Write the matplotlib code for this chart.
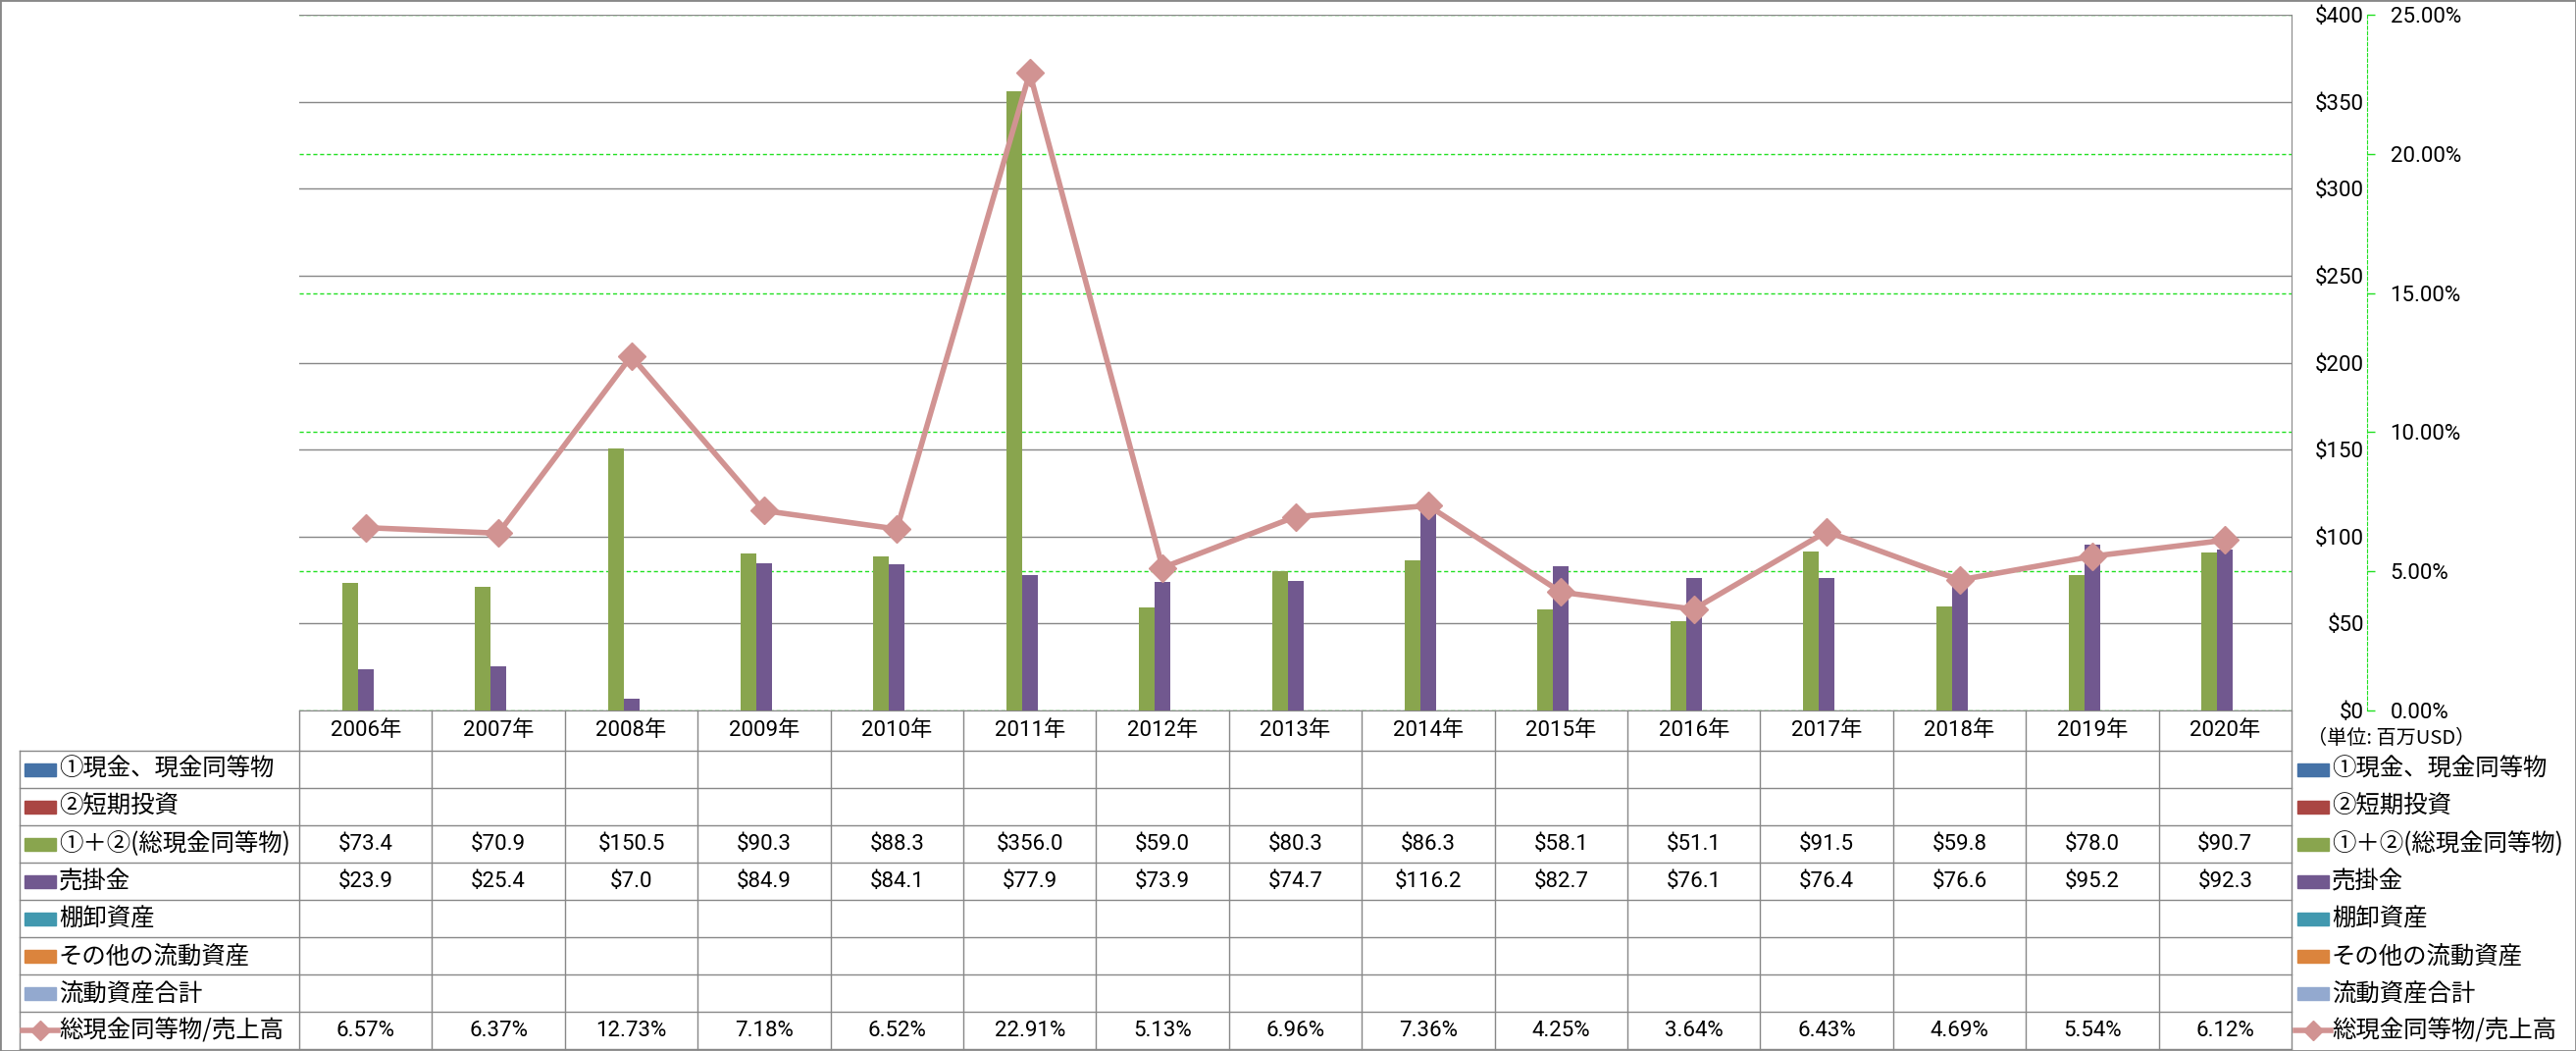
import matplotlib
matplotlib.use('Agg')
from matplotlib import pyplot as plt
from matplotlib.patches import Rectangle
import numpy as np

# data
years = ['2006年', '2007年', '2008年', '2009年', '2010年', '2011年', '2012年', '2013年',
         '2014年', '2015年', '2016年', '2017年', '2018年', '2019年', '2020年']
series_names = ['①現金、現金同等物', '②短期投資', '①＋②(総現金同等物)', '売掛金',
                '棚卸資産', 'その他の流動資産', '流動資産合計']
series_colors = ['#4572A7', '#AA4643', '#89A54E', '#71588F', '#4198AF', '#DB843D', '#93A9CF']
total_cash = [73.4, 70.9, 150.5, 90.3, 88.3, 356.0, 59.0, 80.3, 86.3, 58.1, 51.1, 91.5, 59.8, 78.0, 90.7]
receivables = [23.9, 25.4, 7.0, 84.9, 84.1, 77.9, 73.9, 74.7, 116.2, 82.7, 76.1, 76.4, 76.6, 95.2, 92.3]
series_values = [None, None, total_cash, receivables, None, None, None]
line_name = '総現金同等物/売上高'
cash_to_sales = [6.57, 6.37, 12.73, 7.18, 6.52, 22.91, 5.13, 6.96, 7.36, 4.25, 3.64, 6.43, 4.69, 5.54, 6.12]
line_color = '#D19392'
unit_note = '（単位: 百万USD）'

num_font = ['Roboto', 'Noto Sans CJK JP', 'DejaVu Sans']
jp_font = ['Noto Sans CJK JP', 'DejaVu Sans']
grid_grey = '#888888'
green = '#22E022'

W, H = 2626, 1071
fig = plt.figure(figsize=(W / 100, H / 100), dpi=100)


def fx(px):
    return px / W


def fy(py):
    return 1 - py / H


# layout in pixels
plot_l, plot_r, plot_t, plot_b = 305, 2336, 15, 724
tab_l, tab_b = 20, 1069
n = len(years)
col_w = (plot_r - plot_l) / n

ax = fig.add_axes([fx(plot_l), fy(plot_b), (plot_r - plot_l) / W, (plot_b - plot_t) / H])
axg = ax.twinx()
axl = ax.twinx()

x = np.arange(n) + 0.5
bar_w = 16 / col_w
for k, (vals, c) in enumerate(zip(series_values, series_colors)):
    if vals is None:
        continue
    ax.bar(x + (k - 3) * bar_w, vals, width=bar_w, color=c, zorder=3)

ax.set_xlim(0, n)
ax.set_ylim(0, 400)
yt = list(range(0, 401, 50))
ax.set_yticks(yt)
ax.set_yticklabels([f'${v}' for v in yt])
ax.set_xticks([])
ax.yaxis.grid(True, color=grid_grey, lw=1.0)
ax.set_axisbelow(True)
for s in ['left', 'top']:
    ax.spines[s].set_visible(False)
ax.spines['right'].set_color(grid_grey)
ax.spines['bottom'].set_color(grid_grey)
ax.yaxis.tick_right()
ax.tick_params(axis='y', length=0, pad=(2410 - plot_r) * 0.72, labelsize=16)
for lab in ax.get_yticklabels():
    lab.set_ha('right')
    lab.set_fontfamily(num_font)
ax.set_zorder(2)
ax.patch.set_visible(False)

# percent axis + green grid (below bars)
axg.set_ylim(0, 25)
pt = list(range(0, 26, 5))
axg.set_yticks(pt)
axg.set_yticklabels([f'{v:.2f}%' for v in pt])
axg.yaxis.grid(True, color=green, ls=(0, (3, 2)), lw=1.0)
for s in ['left', 'top', 'bottom']:
    axg.spines[s].set_visible(False)
axg.spines['right'].set_position(('outward', (2413 - plot_r) * 0.72))
axg.spines['right'].set_color(green)
axg.spines['right'].set_linestyle((0, (3, 2)))
axg.tick_params(axis='y', color=green, length=6, width=1, pad=11, labelsize=16)
for lab in axg.get_yticklabels():
    lab.set_fontfamily(num_font)
axg.set_zorder(1)

# ratio line on top
axl.set_ylim(0, 25)
axl.axis('off')
axl.set_zorder(3)
axl.patch.set_visible(False)
axl.plot(x, cash_to_sales, color=line_color, lw=4, marker='D', ms=14.5,
         mfc=line_color, mec=line_color, clip_on=False)

# data table
tab = fig.add_axes([fx(tab_l), fy(tab_b), (plot_r - tab_l) / W, (tab_b - plot_b) / H])
leg_w = (plot_l - tab_l) / col_w
head_h = 41 / 38
n_rows = len(series_names) + 1
tab.set_xlim(-leg_w, n)
tab.set_ylim(head_h + n_rows, 0)
tab.axis('off')

lkw = dict(color=grid_grey, lw=1.0, clip_on=False)
for r in range(n_rows + 1):
    tab.plot([-leg_w, n], [head_h + r, head_h + r], **lkw)
for i in range(n + 1):
    tab.plot([i, i], [0, head_h + n_rows], **lkw)
tab.plot([-leg_w, -leg_w], [head_h, head_h + n_rows], **lkw)

for i, yl in enumerate(years):
    tab.text(i + 0.5, head_h / 2, yl, ha='center', va='center', fontsize=16, family=num_font)

row_labels = series_names + [line_name]
for r, name in enumerate(row_labels):
    yc = head_h + r + 0.5
    if r < len(series_names):
        vals = series_values[r]
        if vals is not None:
            for i, v in enumerate(vals):
                tab.text(i + 0.5, yc, f'${v:.1f}', ha='center', va='center',
                         fontsize=16, family=num_font)
    else:
        for i, v in enumerate(cash_to_sales):
            tab.text(i + 0.5, yc, f'{v:.2f}%', ha='center', va='center',
                     fontsize=16, family=num_font)

    # legend keys: left column and right side
    for x0, tx in [(-leg_w + 4.5 / col_w, -leg_w + 40 / col_w),
                   (n + 6 / col_w, n + 41 / col_w)]:
        sw = 32 / col_w
        if r < len(series_names):
            tab.add_patch(Rectangle((x0, yc - 6.5 / 38), sw, 13 / 38,
                                    color=series_colors[r], clip_on=False))
        else:
            tab.plot([x0 - 2 / col_w, x0 + sw + 2 / col_w], [yc, yc], color=line_color,
                     lw=4, clip_on=False)
            tab.plot([x0 + sw / 2], [yc], marker='D', ms=10.5, color=line_color,
                     clip_on=False)
        tab.text(tx, yc, name, ha='left', va='center', fontsize=17.6, family=jp_font)

fig.text(fx(2352), fy(753), unit_note, ha='left', va='center', fontsize=14.5, family=jp_font)

fig.add_artist(Rectangle((0, 0), 1, 1, transform=fig.transFigure, fill=False,
                         ec=grid_grey, lw=2))

fig.savefig('out.png', dpi=100)
